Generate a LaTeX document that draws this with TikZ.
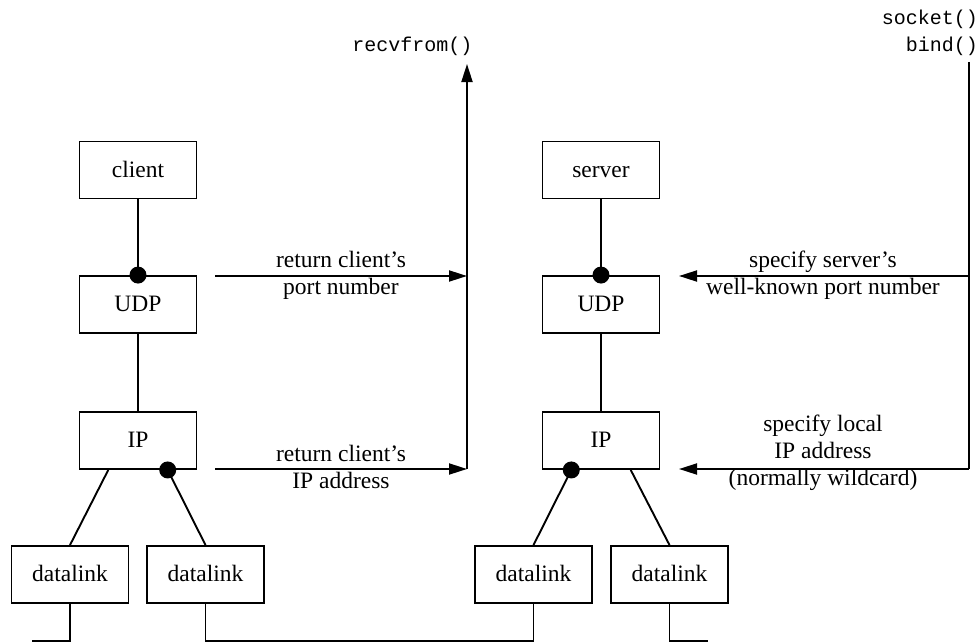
\documentclass[tikz,border=0pt]{standalone}
\usepackage{fontspec}
\setmainfont{Liberation Serif}
\setmonofont{Liberation Mono}
\usetikzlibrary{arrows.meta,calc}
\begin{document}
\begin{tikzpicture}[x=1pt,y=-1pt,
  box/.style={draw, line width=1.9pt, minimum width=117pt, minimum height=57pt, inner sep=0pt, text height=18pt, text depth=4pt, font=\fontsize{23.5}{27}\selectfont},
  wire/.style={line width=1.9pt},
  arr/.style={wire, -{Triangle[length=18pt,width=11pt]}},
  lbl/.style={align=center, inner sep=0pt, font=\fontsize{23.5}{27}\selectfont},
  code/.style={inner sep=0pt, font=\ttfamily\fontsize{20}{27}\selectfont},
  dot/.style={circle, fill, inner sep=0pt, minimum size=17pt}]
\useasboundingbox (0,0) rectangle (977,642);

% client stack
\node[box] (client) at (138,170) {client};
\node[box] (cudp) at (138,304.5) {UDP};
\node[box] (cip) at (138,440.5) {IP};
\node[box] (cdl1) at (70,574.5) {datalink};
\node[box] (cdl2) at (205.5,574.5) {datalink};

% server stack
\node[box] (server) at (601,170) {server};
\node[box] (sudp) at (601,304.5) {UDP};
\node[box] (sip) at (601,440.5) {IP};
\node[box] (sdl1) at (533.5,574.5) {datalink};
\node[box] (sdl2) at (669.5,574.5) {datalink};

% client connections
\draw[wire] (client.south) -- (cudp.north);
\draw[wire] (cudp.south) -- (cip.north);
\coordinate (cipl) at ($(cip.south west)!0.25!(cip.south east)$);
\coordinate (cipr) at ($(cip.south west)!0.75!(cip.south east)$);
\draw[wire] (cipl) -- (cdl1.north);
\draw[wire] (cipr) -- (cdl2.north);
\node[dot] (cdot1) at (cudp.north) {};
\node[dot] (cdot2) at (cipr) {};

% server connections
\draw[wire] (server.south) -- (sudp.north);
\draw[wire] (sudp.south) -- (sip.north);
\coordinate (sipl) at ($(sip.south west)!0.25!(sip.south east)$);
\coordinate (sipr) at ($(sip.south west)!0.75!(sip.south east)$);
\draw[wire] (sipl) -- (sdl1.north);
\draw[wire] (sipr) -- (sdl2.north);
\node[dot] (sdot1) at (sudp.north) {};
\node[dot] (sdot2) at (sipl) {};

% bottom network lines
\coordinate (nl) at (32,641);
\coordinate (nr) at (708,641);
\draw[wire] (nl) -| (cdl1.south);
\draw[wire] (cdl2.south) |- (sdl1.south |- nl) -- (sdl1.south);
\draw[wire] (sdl2.south) |- (nr);

% client side: return info to recvfrom()
\coordinate (cpa) at (215,276);
\coordinate (cpb) at (467,276);
\coordinate (cia) at (215,469);
\coordinate (cib) at (467,469);
\coordinate (rtop) at (467,64);
\draw[arr] (cpa) -- (cpb);
\draw[arr] (cia) -- (cib);
\draw[arr] (cib) -- (rtop);
\node[code] (recv) at (412.5,46) {recvfrom()};
\node[lbl] (lport) at (341,275) {return client's\\port number};
\node[lbl] (lip) at (341,467) {return client's\\IP address};

% server side: socket()/bind()
\coordinate (stop) at (969,62);
\coordinate (spa) at (969,276);
\coordinate (spb) at (679,276);
\coordinate (sia) at (969,469);
\coordinate (sib) at (679,469);
\draw[wire] (stop) -- (sia);
\draw[arr] (spa) -- (spb);
\draw[arr] (sia) -- (sib);
\node[code, anchor=east] (sock) at (978,19) {socket()};
\node[code, anchor=east] (bind) at (978,46) {bind()};
\node[lbl] (lsport) at (823,275) {specify server's\\well-known port number};
\node[lbl] (lsip) at (823,453) {specify local\\IP address\\(normally wildcard)};
\end{tikzpicture}
\end{document}
